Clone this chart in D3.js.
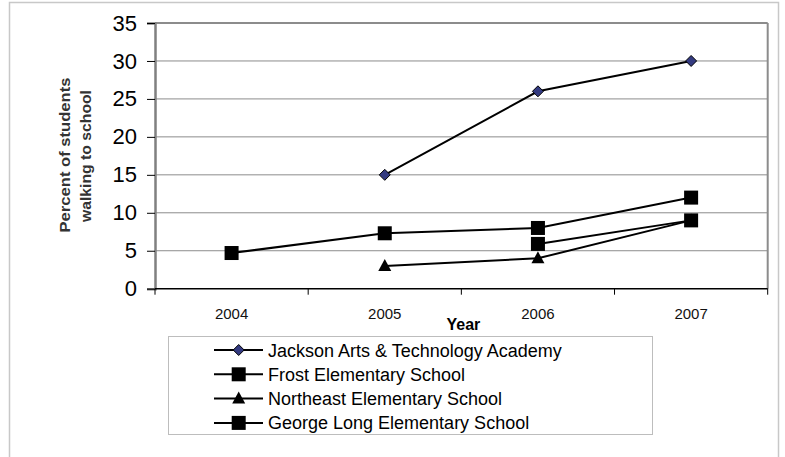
<!DOCTYPE html>
<html>
<head>
  <meta charset="UTF-8">
  <style>
    body { margin: 0; background: white; font-family: Arial, "Liberation Sans", sans-serif; }
  </style>
</head>
<body>
<svg></svg>
<script src="https://d3js.org/d3.v7.min.js"></script>
<script>

let width = 785, height = 457;

// data
let years = ["2004", "2005", "2006", "2007"];
let yTicks = [0, 5, 10, 15, 20, 25, 30, 35];
let seriesNames = ["Jackson Arts & Technology Academy", "Frost Elementary School",
                   "Northeast Elementary School", "George Long Elementary School"];
let jackson   = [null, 15, 26, 30];
let frost     = [4.7, 7.3, 8, 12];
let northeast = [null, 3, 4, 9];
let george    = [null, null, 5.9, 9];

let series = [
  { name: seriesNames[0], values: jackson,   marker: "diamond" },
  { name: seriesNames[1], values: frost,     marker: "square" },
  { name: seriesNames[2], values: northeast, marker: "triangle" },
  { name: seriesNames[3], values: george,    marker: "square" }
];

let svg = d3.select("svg").attr("width", width).attr("height", height);

// outer chart border
svg.append("rect")
    .attr("x", 9.5).attr("y", 2.5)
    .attr("width", 769).attr("height", 470)
    .attr("fill", "none").attr("stroke", "#c8c8c8").attr("stroke-width", 1.5);

let plot = { left: 155, top: 23, right: 767.7, bottom: 288.7 };

let x = d3.scaleBand().domain(years).range([plot.left, plot.right]);
let y = d3.scaleLinear().domain([0, 35]).range([plot.bottom, plot.top]);

// gridlines
svg.append("g")
  .selectAll("line")
  .data(yTicks.filter(d => d > 0))
  .enter().append("line")
    .attr("x1", plot.left).attr("x2", plot.right)
    .attr("y1", d => y(d)).attr("y2", d => y(d))
    .attr("stroke", "#8c8c8c").attr("stroke-width", d => d == 35 ? 2 : 1);

// right border of plot area
svg.append("line")
    .attr("x1", plot.right).attr("x2", plot.right)
    .attr("y1", plot.top).attr("y2", plot.bottom)
    .attr("stroke", "#8c8c8c").attr("stroke-width", 2);

// y axis
let yAxis = d3.axisLeft(y).tickValues(yTicks).tickSize(8).tickPadding(10);
let yg = svg.append("g")
    .attr("transform", `translate(${plot.left},0)`)
    .call(yAxis);
yg.select(".domain").attr("stroke", "#808080").attr("stroke-width", 2.5);
yg.selectAll(".tick line").attr("stroke", "#000");
yg.selectAll("text")
    .attr("font-family", "Arial, 'Liberation Sans', sans-serif")
    .attr("font-size", 22).attr("fill", "#000");

// x axis: ticks at category boundaries
let bounds = years.map(d => x(d)).concat([plot.right]);
svg.append("line")
    .attr("x1", plot.left).attr("x2", plot.right)
    .attr("y1", plot.bottom).attr("y2", plot.bottom)
    .attr("stroke", "#000").attr("stroke-width", 1.5);
svg.append("g")
  .selectAll("line")
  .data(bounds)
  .enter().append("line")
    .attr("x1", d => d).attr("x2", d => d)
    .attr("y1", plot.bottom).attr("y2", plot.bottom + 6)
    .attr("stroke", "#000");
svg.append("g")
  .selectAll("text")
  .data(years)
  .enter().append("text")
    .attr("x", d => x(d) + x.bandwidth() / 2)
    .attr("y", 318.5)
    .attr("text-anchor", "middle")
    .attr("font-size", 15)
    .attr("fill", "#111")
    .text(d => d);

// axis titles
svg.append("text")
    .attr("x", (plot.left + plot.right) / 2 + 2)
    .attr("y", 330)
    .attr("text-anchor", "middle")
    .attr("font-size", 16).attr("font-weight", "bold")
    .text("Year");

let yTitle = svg.append("text")
    .attr("transform", "translate(78,154) rotate(-90)")
    .attr("text-anchor", "middle")
    .attr("font-size", 15).attr("font-weight", "bold").attr("fill", "#333");
yTitle.append("tspan").attr("x", -1).attr("y", -8)
    .attr("textLength", 155).attr("lengthAdjust", "spacingAndGlyphs")
    .text("Percent of students");
yTitle.append("tspan").attr("x", -2).attr("y", 13)
    .attr("textLength", 132).attr("lengthAdjust", "spacingAndGlyphs")
    .text("walking to school");

// marker drawing
function drawMarker(g, type, cx, cy) {
  if (type == "diamond") {
    g.append("path")
      .attr("d", `M${cx},${cy - 5.5}L${cx + 5.5},${cy}L${cx},${cy + 5.5}L${cx - 5.5},${cy}Z`)
      .attr("fill", "#333a80").attr("stroke", "#000").attr("stroke-width", 1);
  } else if (type == "square") {
    g.append("rect")
      .attr("x", cx - 7).attr("y", cy - 7)
      .attr("width", 14).attr("height", 14)
      .attr("fill", "#000");
  } else {
    g.append("path")
      .attr("d", `M${cx},${cy - 7}L${cx + 6.5},${cy + 5}L${cx - 6.5},${cy + 5}Z`)
      .attr("fill", "#000");
  }
}

let xPos = i => x(years[i]) + x.bandwidth() / 2;

let line = d3.line()
    .defined(d => d != null)
    .x((d, i) => xPos(i))
    .y(d => y(d));

series.forEach(s => {
  svg.append("path")
    .attr("d", line(s.values))
    .attr("fill", "none").attr("stroke", "#000").attr("stroke-width", 2);
});
series.forEach(s => {
  let g = svg.append("g");
  s.values.forEach((v, i) => {
    if (v != null) drawMarker(g, s.marker, xPos(i), y(v));
  });
});

// legend
let legend = svg.append("g");
legend.append("rect")
    .attr("x", 168.5).attr("y", 336.5)
    .attr("width", 484).attr("height", 98)
    .attr("fill", "none").attr("stroke", "#bdbdbd");

series.forEach((s, i) => {
  let ly = 350 + i * 24.3;
  legend.append("line")
    .attr("x1", 214).attr("x2", 263)
    .attr("y1", ly).attr("y2", ly)
    .attr("stroke", "#000").attr("stroke-width", 2);
  drawMarker(legend, s.marker, 238.7, ly);
  legend.append("text")
    .attr("x", 268).attr("y", ly + 6.5)
    .attr("font-size", 18)
    .text(s.name);
});

</script>
</body>
</html>
